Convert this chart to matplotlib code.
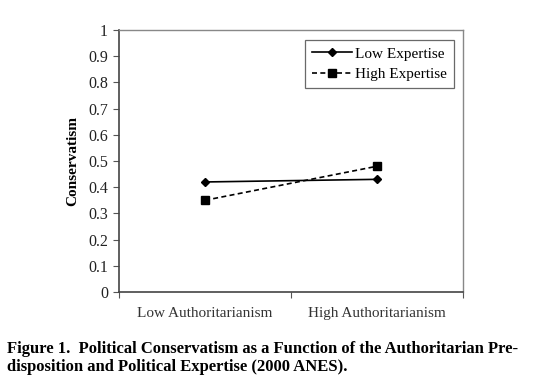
import matplotlib
matplotlib.use('Agg')
import matplotlib.pyplot as plt

categories = ['Low Authoritarianism', 'High Authoritarianism']
low_expertise = [0.42, 0.43]
high_expertise = [0.35, 0.48]
y_ticks = [0, 0.1, 0.2, 0.3, 0.4, 0.5, 0.6, 0.7, 0.8, 0.9, 1]
y_tick_labels = ['0', '0.1', '0.2', '0.3', '0.4', '0.5', '0.6', '0.7', '0.8', '0.9', '1']

SERIF = ['Liberation Serif', 'DejaVu Serif']
plt.rcParams['font.family'] = SERIF

fig = plt.figure(figsize=(5.38, 3.8), dpi=100)
ax = fig.add_axes([119 / 538, 1 - 292 / 380, 344 / 538, 262 / 380])

x = list(range(len(categories)))
ax.plot(x, low_expertise, color='black', lw=1.2, marker='D', ms=4,
        label='Low Expertise')
ax.plot(x, high_expertise, color='black', lw=1.2, ls=(0, (3, 2)),
        marker='s', ms=6, label='High Expertise')

ax.set_xlim(-0.5, 1.5)
ax.set_ylim(0, 1)
ax.set_yticks(y_ticks)
ax.set_yticklabels(y_tick_labels, fontsize=11.5, color='#222222')
ax.set_xticks([-0.5, 0.5, 1.5])
ax.set_xticklabels([])
ax.set_xticks(x, minor=True)
ax.set_xticklabels(categories, minor=True, fontsize=11, color='#333333')
ax.tick_params(axis='x', which='minor', length=0, pad=11)
ax.tick_params(axis='x', which='major', length=4, direction='out',
               color='#555555')
ax.tick_params(axis='y', length=4, direction='out', color='#555555', pad=4)

for side in ['top', 'right']:
    ax.spines[side].set_color('#888888')
    ax.spines[side].set_linewidth(1.0)
for side in ['left', 'bottom']:
    ax.spines[side].set_color('#444444')
    ax.spines[side].set_linewidth(1.2)

ax.set_ylabel('Conservatism', fontsize=11, fontweight='bold', labelpad=6)

leg = ax.legend(loc='upper right', bbox_to_anchor=(0.995, 0.99),
                fontsize=11, frameon=True, fancybox=False,
                handlelength=2.6, handletextpad=0.2, borderpad=0.45,
                labelspacing=0.45)
leg.get_frame().set_edgecolor('#444444')
leg.get_frame().set_linewidth(0.9)

fig.text(7 / 538, 1 - 358 / 380,
         'Figure 1.  Political Conservatism as a Function of the Authoritarian Pre-\n'
         'disposition and Political Expertise (2000 ANES).',
         fontsize=12.0, fontweight='bold', va='center', ha='left',
         linespacing=1.1)

fig.savefig('out.png', dpi=100)
